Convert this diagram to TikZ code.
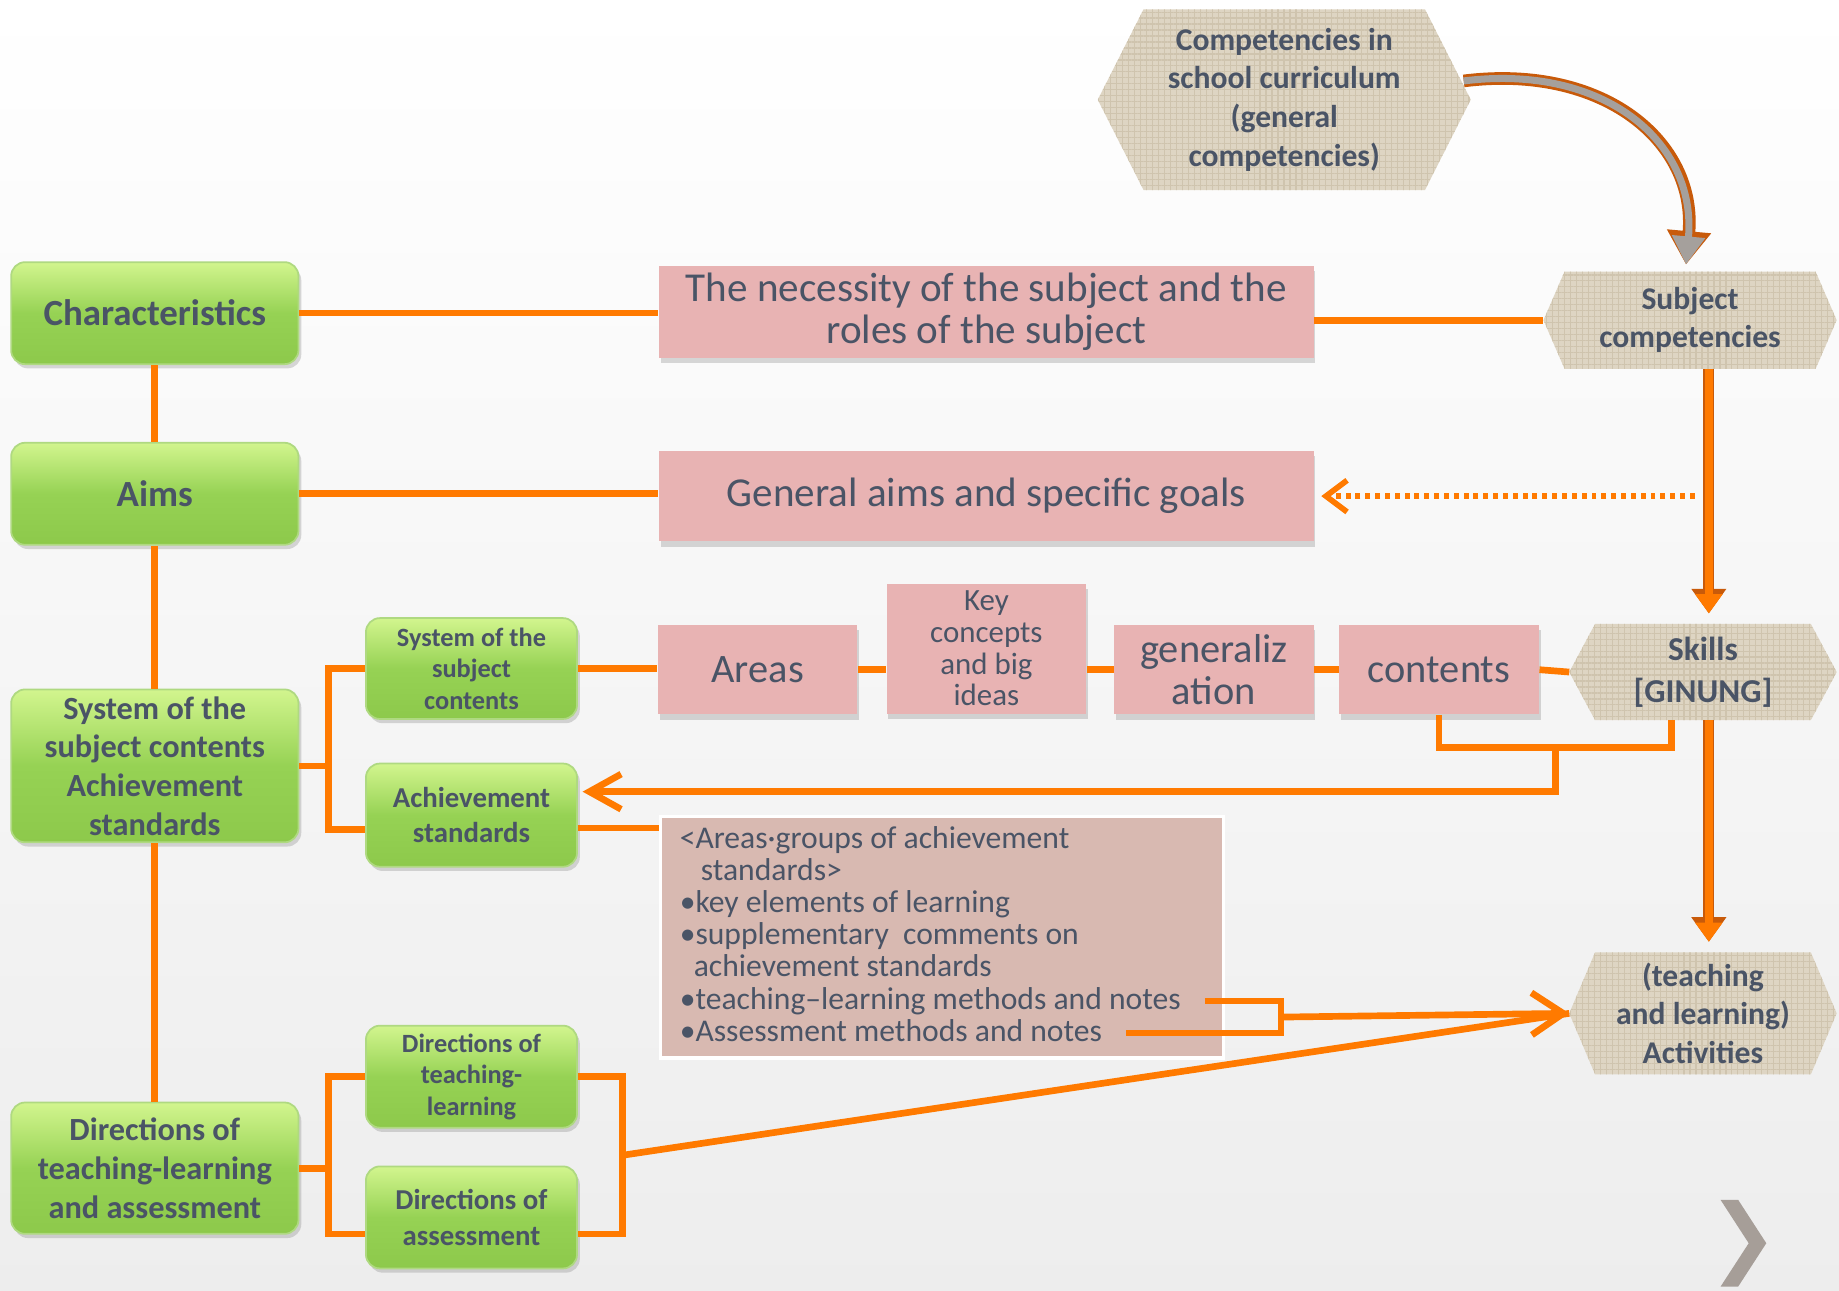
\documentclass[tikz,border=0pt]{standalone}
\usepackage{fontspec}
\setmainfont{Carlito}
\usetikzlibrary{positioning,calc,arrows.meta,shadows,backgrounds,patterns.meta}

\definecolor{lineorange}{HTML}{FF7A00}
\definecolor{darkorange}{HTML}{C85A0A}
\definecolor{inktext}{HTML}{4A5466}
\definecolor{rosefill}{HTML}{E8B3B3}
\definecolor{notefill}{HTML}{D8B9B1}
\definecolor{hexfillc}{HTML}{DED5C3}
\definecolor{hexgrain}{HTML}{CFC4AE}
\definecolor{greentop}{HTML}{D2F58E}
\definecolor{greenmid}{HTML}{96D254}
\definecolor{greenbot}{HTML}{8DC94B}
\definecolor{chevgray}{HTML}{A69E98}
\definecolor{arrowgray}{HTML}{A5A09C}

\def\upx{0.011728cm}

\tikzset{
  dims/.style 2 args={minimum width=#1*\upx, minimum height=#2*\upx},
  bfs/.style 2 args={font=\bfseries\fontsize{#1}{#2}\selectfont},
  rms/.style 2 args={font=\fontsize{#1}{#2}\selectfont},
  greenbox/.style={rounded corners=4pt, draw=greenbot!70!white, line width=0.5pt,
    top color=greentop, bottom color=greenbot, middle color=greenmid,
    text=inktext, align=center, inner sep=2pt,
    drop shadow={shadow xshift=0.8pt, shadow yshift=-1.2pt, opacity=0.3}},
  rosebox/.style={fill=rosefill, text=inktext, align=center, inner sep=2pt,
    drop shadow={shadow xshift=0.5pt, shadow yshift=-1.5pt, opacity=0.3}},
  notebox/.style={fill=notefill, draw=white, line width=1pt},
  noteline/.style={anchor=north west, inner sep=0pt, text=inktext, rms={9}{9.2},
    text height=6.6pt, text depth=2pt},
  hexnode/.style={inner sep=0pt, outer sep=0pt, align=center, text=inktext},
  hexfill/.style={fill=hexfillc, postaction={pattern={Hatch[angle=0,distance=1.7pt,line width=0.35pt]}, pattern color=hexgrain}},
  link/.style={draw=lineorange, line width=1.9pt},
  barb/.style={-{Straight Barb[length=9pt,width=#1]}},
  fatarrow/.style={draw=lineorange, line width=2.2pt, -{Triangle[length=5.5pt,width=7.5pt]},
    preaction={draw=darkorange, line width=3.1pt, -{Triangle[length=7pt,width=9.5pt]}}},
  dotarrow/.style={draw=lineorange, line width=1.6pt, dash pattern=on 1.4pt off 1.4pt,
    -{Straight Barb[length=6pt,width=9pt]}},
  curvearrow/.style={draw=arrowgray, line width=2pt, -{Triangle[length=8pt,width=9pt]},
    preaction={draw=darkorange, line width=3.6pt, -{Triangle[length=9.5pt,width=12pt]}}}
}

\begin{document}
\begin{tikzpicture}[x=0.011728cm, y=-0.011728cm]
\useasboundingbox (0,0) rectangle (1568,1100);

% left column
\node[greenbox, dims={245}{87}, bfs={10.5}{12.5}] (char) at (132,267) {Characteristics};
\node[greenbox, dims={245}{87}, bfs={10.5}{12.5}] (aims) at (132,421) {Aims};
\node[greenbox, dims={245}{127}, bfs={9.2}{11}] (syst) at (132,653) {System of the\\subject contents\\Achievement\\standards};
\node[greenbox, dims={245}{112}, bfs={9.2}{11}] (dira) at (132,996) {Directions of\\teaching-learning\\and assessment};

% second column
\node[greenbox, dims={180}{86}, bfs={7.5}{9}] (subj) at (402,570) {System of the\\subject\\contents};
\node[greenbox, dims={180}{88}, bfs={8.2}{10}] (achv) at (402,695) {Achievement\\standards};
\node[greenbox, dims={180}{87}, bfs={7.5}{9}] (dtl) at (402,918) {Directions of\\teaching-\\learning};
\node[greenbox, dims={180}{87}, bfs={8.2}{10}] (dass) at (402,1038) {Directions of\\assessment};

% pink boxes
\node[rosebox, dims={558}{77}, rms={11.7}{12}] (need) at (841,266) {The necessity of the subject and the\\roles of the subject};
\node[rosebox, dims={558}{77}, rms={11.7}{12}] (goal) at (841,423) {General aims and specific goals};
\node[rosebox, dims={170}{76}, rms={11.5}{12}] (area) at (646,571) {Areas};
\node[rosebox, dims={170}{111}, rms={8.8}{9}] (keyc) at (841,553) {Key\\concepts\\and big\\ideas};
\node[rosebox, dims={170}{76}, rms={11.5}{11.8}] (genz) at (1035,571) {generaliz\\ation};
\node[rosebox, dims={170}{76}, rms={11.5}{12}] (cont) at (1227,571) {contents};

% notes
\node[notebox, dims={480}{206}] (notes) at (803,799) {};
\foreach \i/\t in {1/{<Areas·groups of achievement},
                   2/{\hspace*{6pt}standards>},
                   3/{•key elements of learning},
                   4/{•supplementary\ \ comments on},
                   5/{\hspace*{4pt}achievement standards},
                   6/{•teaching–learning methods and notes},
                   7/{•Assessment methods and notes}}
  \node[noteline] (n\i) at (579,{703+(\i-1)*27.4}) {\t};

% competencies
\node[hexnode, dims={318}{154}, bfs={9}{11}] (gcomp) at (1095,85) {Competencies in\\school curriculum\\(general\\competencies)};
\node[hexnode, dims={250}{83}, bfs={9}{10.8}] (scomp) at (1441,273) {Subject\\competencies};
\node[hexnode, dims={228}{82}, bfs={9.5}{12}] (skil) at (1452,573) {Skills\\{}[GINUNG]};
\node[hexnode, dims={228}{104}, bfs={9}{11}] (actv) at (1452,864) {(teaching\\and learning)\\Activities};

\begin{scope}[on background layer]
  \shade[top color=white, middle color=white, bottom color=black!7] (0,0) rectangle (1568,1100);
  \foreach \n/\d in {gcomp/39, scomp/18, skil/22, actv/22}
    \path[hexfill] (\n.west) -- ($(\n.north west)+(\d,0)$) -- ($(\n.north east)+(-\d,0)$)
      -- (\n.east) -- ($(\n.south east)+(-\d,0)$) -- ($(\n.south west)+(\d,0)$) -- cycle;
\end{scope}

% trunk and rows
\draw[link] (char.south) -- (aims.north);
\draw[link] (aims.south) -- (syst.north);
\draw[link] (syst.south) -- (dira.north);
\draw[link] (char.east) -- (char.east -| need.west);
\draw[link] (need.east |- scomp.west) -- (scomp.west);
\draw[link] (aims.east) -- (aims.east -| goal.west);

% brackets
\draw[link] (syst.east) -- ++(25,0) coordinate (sj);
\draw[link] (subj.west) -| (sj) |- ($(achv.west)+(0,12)$);
\draw[link] (dira.east) -- ++(25,0) coordinate (dj);
\draw[link] (dtl.west) -| (dj) |- ($(dass.west)+(0,14)$);
\coordinate (de) at ($(dass.east)+(0,14)$);
\draw[link] (dtl.east) -- ++(38,0) coordinate (dk) -- (dk |- de) -- (de);
\coordinate (dm) at ($(dk)!0.5!(dk |- de)$);
\draw[link] (dm) -- (actv.west);

% contents chain
\draw[link] (subj.east) -- (subj.east -| area.west);
\draw[link] (area.east) -- (area.east -| keyc.west);
\draw[link] (keyc.east |- genz.west) -- (genz.west);
\draw[link] (genz.east) -- (cont.west);
\draw[link] (cont.east) -- (skil.west);
\coordinate (sk) at ($(skil.south)+(-27,0)$);
\draw[link] (cont.south) -- ++(0,28) coordinate (ca) -| (sk);
\coordinate (cm) at ($(ca)!0.5!(ca -| sk)$);
\draw[link, barb=10pt] (cm) |- ($(achv.east)+(4,-20)$);
\coordinate (aw) at ($(achv.east)+(0,11)$);
\draw[link] (aw) -- (aw -| notes.west);

% notes to activities
\draw[link] ($(n6.east)+(20,0)$) -- ++(65,0) coordinate (nk) |- ($(n7.east)+(20,0)$);
\coordinate (nm) at ($(nk)!0.5!(nk |- n7.east)$);
\draw[link, barb=12pt] (nm) -- (actv.west);

% competency arrows
\coordinate (sa) at ($(skil.north |- scomp.south)+(5,0)$);
\coordinate (sb) at ($(skil.south)+(5,0)$);
\draw[curvearrow, shorten >=2pt] ($(gcomp.east)+(-6,-16)$) .. controls +(120,-15) and +(10,-110) .. ($(scomp.north)+(-4,0)$);
\draw[fatarrow, shorten >=3pt] (sa) -- (sa |- skil.north);
\draw[fatarrow, shorten >=3pt] (sb) -- (sb |- actv.north);
\coordinate (dt) at (sa |- goal.east);
\draw[dotarrow, shorten <=4pt, shorten >=2pt] (dt) -- (goal.east);

% slide mark
\fill[chevgray] (1467,1023) -- (1482,1023) -- (1506,1060) -- (1482,1097) -- (1467,1097) -- (1491,1060) -- cycle;
\end{tikzpicture}
\end{document}
